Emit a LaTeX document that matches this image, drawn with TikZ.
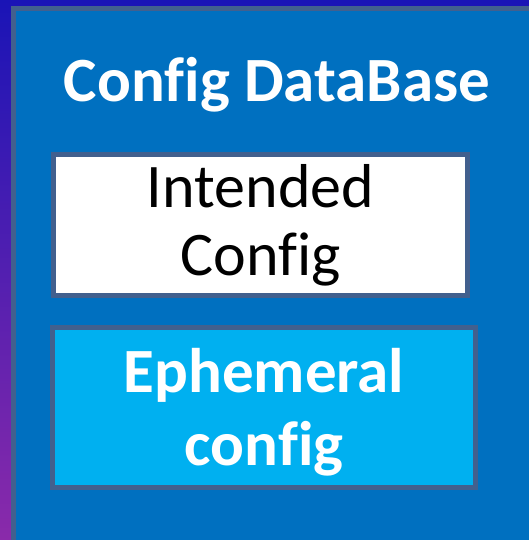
\documentclass[tikz,border=0pt]{standalone}
\usepackage{fontspec}
\setmainfont{Carlito}[Ligatures=NoCommon]
\usetikzlibrary{positioning}
\definecolor{deepviolet}{HTML}{1A14B6}
\definecolor{midviolet}{HTML}{4A0EC6}
\definecolor{plum}{HTML}{8A2AAA}
\definecolor{dbblue}{HTML}{0070C0}
\definecolor{ephcyan}{HTML}{00B0F0}
\definecolor{slateedge}{HTML}{42608E}

\tikzset{
  panel/.style={draw=slateedge,line width=5pt,inner sep=0pt},
  boxtext/.style={font=\fontsize{62}{68}\selectfont,align=center},
}

\begin{document}
\begin{tikzpicture}[x=1pt,y=-1pt]
  \useasboundingbox (0,0) rectangle (529,540);
  \shade[top color=deepviolet,middle color=midviolet,bottom color=plum]
    (0,0) rectangle (529,540);
  \clip (0,0) rectangle (529,540);
  % database panel runs off the page
  \node[panel,fill=dbblue,minimum width=600pt,minimum height=600pt] (db) at (313.5,308.5) {};
  \node[font=\fontsize{63}{66}\selectfont\bfseries,text=white,anchor=base] (title) at (277,102) {Config DataBase};
  \node[panel,fill=white,minimum width=414pt,minimum height=141pt] (intended) at (260.5,225) {};
  \node[boxtext,text=black] (intendedlabel) at (intended.center) {Intended\\Config};
  \node[panel,fill=ephcyan,minimum width=423pt,minimum height=160pt] (ephemeral) at (264,407.5) {};
  \node[boxtext,font=\fontsize{63}{73}\selectfont\bfseries,text=white] (ephemerallabel)
    at ([yshift=-5pt]ephemeral.center) {Ephemeral\\config};
\end{tikzpicture}
\end{document}
